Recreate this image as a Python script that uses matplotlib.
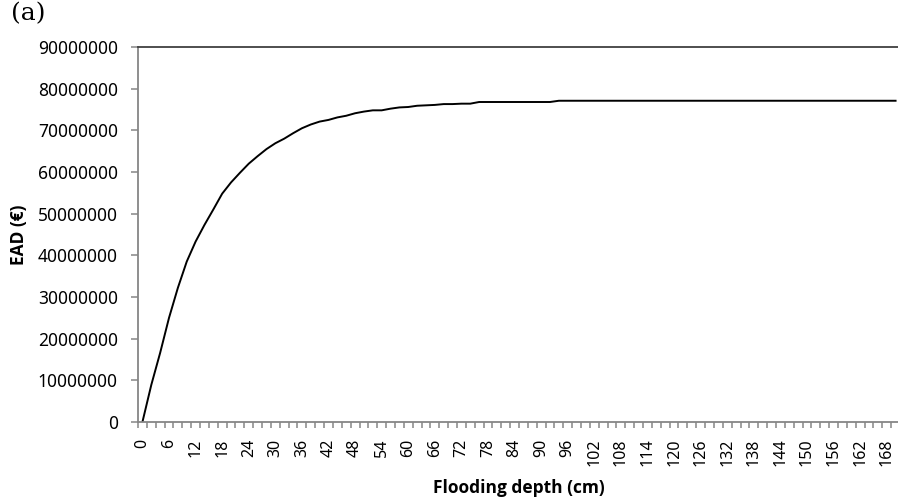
import numpy as np
import matplotlib
matplotlib.use('Agg')
import matplotlib.pyplot as plt
from matplotlib.ticker import FixedLocator, FuncFormatter

# flooding depth categories (cm), one every 2 cm
depth = list(range(0, 172, 2))

# expected annual damage, in millions of euro
ead_m = [0, 8.9, 16.6, 25.0, 32.2, 38.5, 43.3, 47.3, 51.0, 54.8,
         57.5, 59.8, 62.0, 63.8, 65.5, 66.9, 68.0, 69.3, 70.5, 71.4,
         72.1, 72.5, 73.1, 73.5, 74.1, 74.5, 74.8, 74.8, 75.2, 75.5,
         75.6, 75.9, 76.0, 76.1, 76.3, 76.3, 76.4, 76.4, 76.8, 76.8,
         76.8, 76.8, 76.8, 76.8, 76.8, 76.8, 76.8, 77.1, 77.1, 77.1,
         77.1, 77.1, 77.1, 77.1, 77.1, 77.1, 77.1, 77.1, 77.1, 77.1,
         77.1, 77.1, 77.1, 77.1, 77.1, 77.1, 77.1, 77.1, 77.1, 77.1,
         77.1, 77.1, 77.1, 77.1, 77.1, 77.1, 77.1, 77.1, 77.1, 77.1,
         77.1, 77.1, 77.1, 77.1, 77.1, 77.1]

y_ticks = list(range(0, 90000001, 10000000))
x_labels = list(range(0, 169, 6))

ead = np.array(ead_m) * 1e6
grey = '#868686'

plt.rcParams['font.family'] = ['Noto Sans', 'DejaVu Sans']

fig = plt.figure(figsize=(8.98, 4.97), dpi=100)
ax = fig.add_axes([138 / 898, 1 - 422 / 497, 762 / 898, 375 / 497])

ax.plot(depth, ead, color='black', lw=1.4)

ax.set_xlim(-1, 171)
ax.set_ylim(0, 90000000)

ax.spines['right'].set_visible(False)
ax.spines['top'].set_color('#404040')
ax.spines['top'].set_linewidth(1.3)
for s in ['left', 'bottom']:
    ax.spines[s].set_color(grey)
    ax.spines[s].set_linewidth(1.3)

ax.set_yticks(y_ticks)
ax.yaxis.set_major_formatter(FuncFormatter(lambda v, p: f'{int(v)}'))
ax.tick_params(axis='y', length=5, width=1.1, color=grey, pad=9.5, labelsize=12.5, direction='out')

# labels at category centres, tick marks between categories
ax.xaxis.set_major_locator(FixedLocator(x_labels))
ax.xaxis.set_minor_locator(FixedLocator(np.arange(-1, 172, 2)))
ax.set_xticklabels([str(v) for v in x_labels], rotation=90)
ax.tick_params(axis='x', which='major', length=0, pad=12, labelsize=11.5)
ax.tick_params(axis='x', which='minor', length=4, width=1.1, color=grey, direction='out')

lab_font = dict(fontsize=12.5, fontweight='bold', family=['Open Sans', 'DejaVu Sans'])
ax.set_xlabel('Flooding depth (cm)', labelpad=9, **lab_font)
ax.set_ylabel('EAD (€)', labelpad=7, **lab_font)

fig.text(0.012, 1 - 2 / 497, '(a)', fontsize=18, family='DejaVu Serif', va='top', ha='left')

fig.savefig('out.png', dpi=100)
